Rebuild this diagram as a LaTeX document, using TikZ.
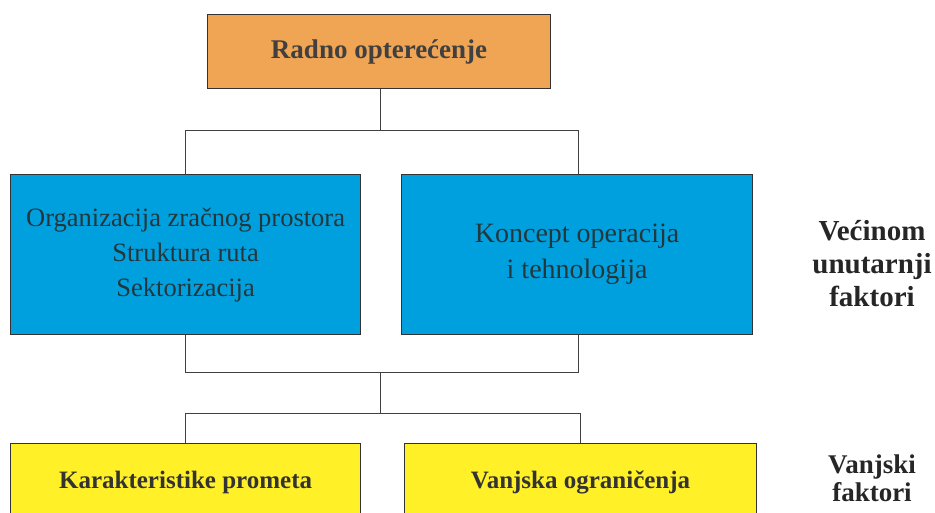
\documentclass[tikz,border=0pt]{standalone}
\usepackage{fontspec}
\setmainfont{Liberation Serif}
\begin{document}
\begin{tikzpicture}[x=1pt,y=-1pt,
  box/.style={draw=black!80,line width=1.2pt,anchor=north west,inner sep=0pt,align=center,text=black!80},
  conn/.style={draw=black!75,line width=0.9pt},
  side/.style={align=center,font=\bfseries\fontsize{29}{33}\selectfont,text=black!85}]
\useasboundingbox (0,0) rectangle (935,512);
\clip (0,0) rectangle (935,512);
\node[box,fill={rgb,255:red,240;green,165;blue,85},minimum width=343pt,minimum height=74pt,font=\bfseries\fontsize{27}{30}\selectfont,text=black!75] (top) at (207,14) {Radno opterećenje};
\node[box,fill={rgb,255:red,0;green,160;blue,222},minimum width=350pt,minimum height=160pt,font=\fontsize{26.5}{35}\selectfont,text={rgb,255:red,35;green,55;blue,60}] (b1) at (10,174) {Organizacija zračnog prostora\\Struktura ruta\\Sektorizacija};
\node[box,fill={rgb,255:red,0;green,160;blue,222},minimum width=351pt,minimum height=160pt,font=\fontsize{28}{36}\selectfont,text={rgb,255:red,35;green,55;blue,60}] (b2) at (401,174) {Koncept operacija\\i tehnologija};
\node[box,fill={rgb,255:red,255;green,240;blue,40},minimum width=350pt,minimum height=90pt,font=\bfseries\fontsize{25}{30}\selectfont] (y1) at (10,443) {\raisebox{17pt}{Karakteristike prometa}};
\node[box,fill={rgb,255:red,255;green,240;blue,40},minimum width=352pt,minimum height=90pt,font=\bfseries\fontsize{25}{30}\selectfont] (y2) at (404,443) {\raisebox{17pt}{Vanjska ograničenja}};
\coordinate (j1) at (380,130);
\coordinate (j2) at (380,372);
\coordinate (j3) at (380,413);
\draw[conn] (top.south -| j1) -- (j1);
\draw[conn] (j1 -| 185,0) -- (j1 -| 578,0);
\draw[conn] (j1 -| 185,0) -- (b1.north -| 185,0);
\draw[conn] (j1 -| 578,0) -- (b2.north -| 578,0);
\draw[conn] (b1.south -| 185,0) -- (j2 -| 185,0) -- (j2 -| 578,0) -- (b2.south -| 578,0);
\draw[conn] (j2) -- (j3);
\draw[conn] (y1.north -| 185,0) -- (j3 -| 185,0) -- (j3 -| 580,0) -- (y2.north -| 580,0);
\node[side] (s1) at (872,264) {Većinom\\unutarnji\\faktori};
\node[side,font=\bfseries\fontsize{27}{28}\selectfont] (s2) at (872,478) {Vanjski\\faktori};
\end{tikzpicture}
\end{document}
